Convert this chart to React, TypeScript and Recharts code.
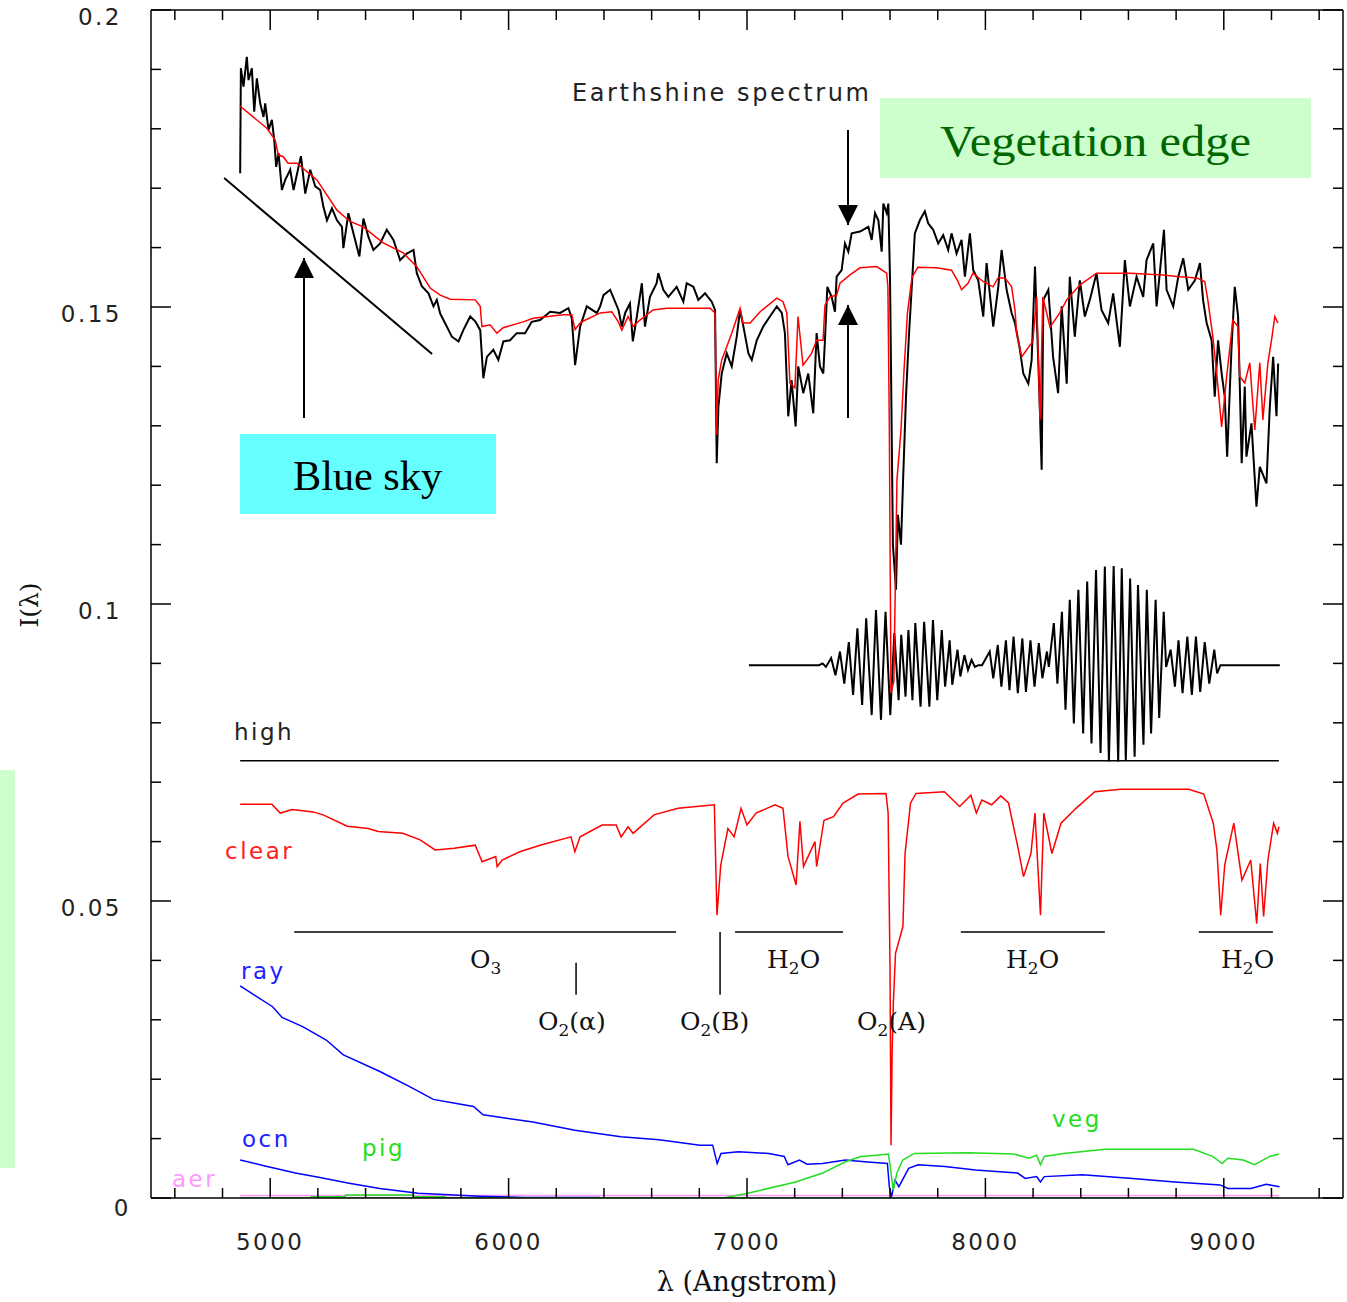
import React from "react";
import { ComposedChart, Line, XAxis, YAxis, ReferenceLine } from "recharts";

// [wavelength (Angstrom), I(lambda)]
const earthshine: [number, number][] = [
  [4874, 0.1725], [4877, 0.1902], [4888, 0.1871], [4902, 0.1921], [4909, 0.1882], [4923, 0.1902],
  [4933, 0.1829], [4944, 0.1885], [4958, 0.1843], [4972, 0.182], [4979, 0.1843], [4993, 0.1798],
  [5007, 0.1815], [5017, 0.1781], [5025, 0.1736], [5035, 0.1759], [5049, 0.1697], [5063, 0.1714],
  [5084, 0.1731], [5098, 0.1697], [5119, 0.1736], [5129, 0.1754], [5147, 0.1691], [5168, 0.1731],
  [5189, 0.1703], [5210, 0.1697], [5223, 0.1669], [5238, 0.1646], [5259, 0.1666], [5280, 0.1646],
  [5301, 0.1635], [5307, 0.1599], [5328, 0.1658], [5349, 0.1624], [5374, 0.1585], [5391, 0.1649],
  [5412, 0.1618], [5433, 0.1596], [5461, 0.1607], [5489, 0.163], [5517, 0.1613], [5545, 0.1579],
  [5573, 0.159], [5601, 0.1596], [5615, 0.1557], [5636, 0.1535], [5664, 0.1523], [5685, 0.1501],
  [5699, 0.1512], [5713, 0.1489], [5741, 0.1467], [5762, 0.145], [5790, 0.1442], [5810, 0.1461],
  [5839, 0.1484], [5860, 0.1476], [5881, 0.1461], [5894, 0.138], [5909, 0.1416], [5936, 0.1428],
  [5957, 0.1411], [5978, 0.1442], [6006, 0.1444], [6034, 0.1456], [6069, 0.1456], [6097, 0.1475],
  [6132, 0.1478], [6174, 0.1492], [6216, 0.149], [6251, 0.1498], [6265, 0.1481], [6279, 0.1402],
  [6300, 0.1467], [6328, 0.1501], [6370, 0.149], [6384, 0.1501], [6398, 0.152], [6426, 0.1529],
  [6461, 0.1495], [6475, 0.1467], [6489, 0.149], [6509, 0.1506], [6521, 0.1442], [6538, 0.1484],
  [6559, 0.154], [6572, 0.1467], [6593, 0.1517], [6621, 0.154], [6628, 0.1557], [6649, 0.1529],
  [6670, 0.1517], [6705, 0.1534], [6733, 0.1509], [6747, 0.154], [6775, 0.1534], [6796, 0.1512],
  [6824, 0.1523], [6852, 0.1509], [6866, 0.1495], [6873, 0.1237], [6880, 0.1332], [6894, 0.1388],
  [6915, 0.1422], [6936, 0.14], [6957, 0.145], [6971, 0.1495], [6985, 0.1467], [7006, 0.1422],
  [7020, 0.1411], [7041, 0.1444], [7068, 0.1467], [7096, 0.1484], [7125, 0.1501], [7146, 0.149],
  [7159, 0.1456], [7173, 0.1316], [7187, 0.1377], [7204, 0.1299], [7215, 0.14], [7236, 0.1355],
  [7257, 0.1388], [7278, 0.1321], [7292, 0.1456], [7306, 0.14], [7320, 0.1388], [7327, 0.1444],
  [7337, 0.1534], [7355, 0.1517], [7369, 0.1492], [7376, 0.1551], [7397, 0.1562], [7411, 0.1607],
  [7425, 0.1593], [7439, 0.1624], [7474, 0.1627], [7509, 0.1635], [7523, 0.1613], [7537, 0.1658],
  [7551, 0.1646], [7565, 0.1593], [7572, 0.1674], [7586, 0.1658], [7593, 0.1674], [7600, 0.1545],
  [7604, 0.14], [7612, 0.11], [7625, 0.1024], [7633, 0.115], [7646, 0.11], [7654, 0.12],
  [7667, 0.135], [7679, 0.145], [7692, 0.154], [7704, 0.1624], [7725, 0.1646], [7746, 0.1661],
  [7760, 0.1641], [7781, 0.163], [7802, 0.1607], [7823, 0.1621], [7844, 0.1596], [7858, 0.1624],
  [7879, 0.159], [7900, 0.1613], [7914, 0.1551], [7935, 0.1624], [7949, 0.1562], [7970, 0.1545],
  [7991, 0.1484], [8005, 0.1574], [8033, 0.1467], [8054, 0.1534], [8068, 0.1596], [8089, 0.1529],
  [8110, 0.149], [8124, 0.1473], [8145, 0.1428], [8159, 0.1388], [8180, 0.1371], [8194, 0.1411],
  [8208, 0.1568], [8226, 0.136], [8236, 0.1226], [8243, 0.1512], [8264, 0.1529], [8284, 0.1416],
  [8305, 0.1355], [8320, 0.1501], [8341, 0.1371], [8354, 0.1551], [8375, 0.145], [8396, 0.1545],
  [8417, 0.1484], [8438, 0.1512], [8466, 0.1557], [8487, 0.1495], [8515, 0.1473], [8536, 0.1523],
  [8564, 0.1433], [8585, 0.1579], [8606, 0.1501], [8634, 0.1551], [8662, 0.1517], [8676, 0.1579],
  [8704, 0.1607], [8718, 0.1501], [8749, 0.163], [8760, 0.1529], [8788, 0.1501], [8809, 0.1551],
  [8830, 0.1582], [8851, 0.1529], [8879, 0.1545], [8900, 0.1574], [8913, 0.1512], [8928, 0.1473],
  [8949, 0.1444], [8962, 0.1349], [8976, 0.1444], [8991, 0.1388], [9004, 0.1349], [9014, 0.1248],
  [9032, 0.1428], [9046, 0.1534], [9060, 0.1484], [9075, 0.1237], [9088, 0.1366], [9095, 0.1248],
  [9116, 0.1304], [9137, 0.1164], [9151, 0.1231], [9179, 0.1203], [9193, 0.1332], [9207, 0.1416],
  [9221, 0.1316], [9228, 0.1405],
];

const modelFit: [number, number][] = [
  [4874, 0.1838], [4986, 0.1801], [5021, 0.1781], [5034, 0.1756], [5055, 0.1753], [5075, 0.1742],
  [5112, 0.1742], [5196, 0.1714], [5280, 0.1663], [5335, 0.1644], [5390, 0.1635], [5474, 0.1608],
  [5558, 0.1591], [5615, 0.1568], [5671, 0.1532], [5713, 0.152], [5755, 0.1513], [5860, 0.1512],
  [5881, 0.1501], [5888, 0.1467], [5922, 0.147], [5951, 0.1456], [5977, 0.1465], [6061, 0.1475],
  [6103, 0.1481], [6229, 0.1487], [6265, 0.1487], [6279, 0.1462], [6300, 0.1473], [6312, 0.1476],
  [6384, 0.149], [6433, 0.1492], [6459, 0.1476], [6475, 0.1461], [6501, 0.1484], [6522, 0.1467],
  [6551, 0.1478], [6606, 0.1495], [6663, 0.1498], [6845, 0.1498], [6866, 0.149], [6873, 0.1285],
  [6879, 0.1377], [6894, 0.1411], [6915, 0.1433], [6936, 0.1456], [6971, 0.1498], [6983, 0.1473],
  [7013, 0.1473], [7055, 0.1492], [7125, 0.1515], [7151, 0.1509], [7167, 0.149], [7180, 0.1372],
  [7201, 0.1364], [7214, 0.1484], [7235, 0.1402], [7271, 0.1422], [7292, 0.1444], [7319, 0.1444],
  [7327, 0.1503], [7348, 0.1517], [7376, 0.152], [7390, 0.154], [7432, 0.1554], [7474, 0.1566],
  [7544, 0.1568], [7586, 0.1557], [7591, 0.1534], [7597, 0.13], [7604, 0.085], [7616, 0.087],
  [7629, 0.1209], [7646, 0.1293], [7658, 0.1389], [7673, 0.149], [7692, 0.155], [7717, 0.1567],
  [7795, 0.1566], [7858, 0.1562], [7885, 0.1543], [7900, 0.1529], [7927, 0.154], [7948, 0.1557],
  [7990, 0.1543], [8032, 0.1534], [8053, 0.1549], [8082, 0.1549], [8110, 0.1534], [8124, 0.1495],
  [8131, 0.1456], [8152, 0.1416], [8173, 0.1428], [8199, 0.1442], [8215, 0.1517], [8229, 0.131],
  [8241, 0.1517], [8271, 0.1466], [8312, 0.149], [8341, 0.1512], [8396, 0.1537], [8466, 0.1557],
  [8606, 0.1557], [8744, 0.1554], [8816, 0.1551], [8886, 0.1549], [8920, 0.1543], [8933, 0.1512],
  [8954, 0.145], [8970, 0.1389], [8991, 0.1298], [9012, 0.1383], [9038, 0.1478], [9059, 0.1467],
  [9067, 0.1383], [9088, 0.1372], [9109, 0.1406], [9130, 0.1293], [9151, 0.1406], [9164, 0.131],
  [9185, 0.1406], [9200, 0.1444], [9214, 0.1484], [9227, 0.1473],
];

const residual: [number, number][] = [
  [7008, 0.0897], [7302, 0.0897], [7317, 0.09], [7331, 0.0894], [7353, 0.0909], [7371, 0.088],
  [7390, 0.092], [7408, 0.0866], [7427, 0.0936], [7445, 0.0847], [7463, 0.0959], [7483, 0.083],
  [7500, 0.0976], [7523, 0.0813], [7541, 0.099], [7562, 0.0805], [7581, 0.0987], [7601, 0.0813],
  [7618, 0.0951], [7636, 0.0838], [7647, 0.0948], [7665, 0.0844], [7677, 0.0956], [7694, 0.0838],
  [7706, 0.0968], [7728, 0.0827], [7743, 0.097], [7765, 0.0827], [7780, 0.0973], [7798, 0.0838],
  [7817, 0.0956], [7831, 0.0861], [7850, 0.0939], [7861, 0.0864], [7883, 0.0923], [7895, 0.0878],
  [7912, 0.0914], [7927, 0.0889], [7942, 0.0906], [7956, 0.0894], [7971, 0.0897], [7986, 0.0897],
  [8018, 0.092], [8033, 0.0875], [8052, 0.0931], [8067, 0.0861], [8086, 0.0939], [8101, 0.0855],
  [8118, 0.0945], [8136, 0.085], [8155, 0.0942], [8170, 0.0852], [8189, 0.0939], [8206, 0.0861],
  [8224, 0.0934], [8239, 0.0875], [8258, 0.092], [8266, 0.0894], [8287, 0.0968], [8302, 0.0866],
  [8321, 0.0987], [8336, 0.0822], [8354, 0.1007], [8371, 0.0799], [8390, 0.1024], [8410, 0.0782],
  [8427, 0.1038], [8445, 0.0765], [8464, 0.1057], [8483, 0.0749], [8501, 0.1063], [8518, 0.0735],
  [8538, 0.1064], [8557, 0.0735], [8572, 0.106], [8589, 0.0737], [8607, 0.1043], [8626, 0.0743],
  [8640, 0.1032], [8663, 0.0763], [8677, 0.1024], [8695, 0.0782], [8714, 0.1007], [8729, 0.0808],
  [8748, 0.0987], [8758, 0.0894], [8777, 0.0923], [8795, 0.0861], [8810, 0.0939], [8827, 0.085],
  [8847, 0.0945], [8866, 0.0847], [8883, 0.0945], [8901, 0.0852], [8920, 0.0936], [8939, 0.0866],
  [8960, 0.0923], [8972, 0.0883], [8986, 0.0897], [9235, 0.0897],
];

const high: [number, number][] = [[4874, 0.0736], [9231, 0.0736]];

const clear: [number, number][] = [
  [4874, 0.0663], [5007, 0.0663], [5042, 0.0648], [5092, 0.0654], [5180, 0.065], [5222, 0.0645],
  [5323, 0.0626], [5411, 0.0622], [5453, 0.0617], [5556, 0.0614], [5629, 0.0603], [5692, 0.0586],
  [5772, 0.0589], [5860, 0.0594], [5889, 0.0566], [5946, 0.0575], [5952, 0.0558], [5973, 0.0569],
  [6047, 0.0583], [6132, 0.0594], [6262, 0.0608], [6278, 0.0583], [6300, 0.0608], [6392, 0.0628],
  [6451, 0.0628], [6472, 0.0608], [6501, 0.0625], [6522, 0.0614], [6610, 0.0645], [6711, 0.0656],
  [6863, 0.0662], [6874, 0.0476], [6890, 0.0561], [6920, 0.0622], [6946, 0.0608], [6975, 0.0656],
  [7000, 0.0628], [7038, 0.0648], [7117, 0.0662], [7151, 0.0656], [7172, 0.0575], [7206, 0.0527],
  [7222, 0.0634], [7237, 0.0558], [7285, 0.06], [7292, 0.0558], [7323, 0.0636], [7363, 0.0642],
  [7403, 0.0665], [7466, 0.068], [7583, 0.0681], [7592, 0.0648], [7600, 0.0384], [7604, 0.0089],
  [7609, 0.025], [7614, 0.033], [7623, 0.0412], [7654, 0.0457], [7663, 0.058], [7686, 0.0665],
  [7709, 0.0681], [7828, 0.0684], [7892, 0.0659], [7939, 0.0678], [7962, 0.0648], [7985, 0.067],
  [8026, 0.0662], [8065, 0.0677], [8097, 0.0665], [8136, 0.0591], [8160, 0.0541], [8191, 0.058],
  [8208, 0.0648], [8231, 0.0476], [8245, 0.0648], [8279, 0.058], [8317, 0.0631], [8380, 0.0656],
  [8459, 0.0684], [8568, 0.0688], [8853, 0.0688], [8916, 0.068], [8956, 0.0631], [8971, 0.0586],
  [8987, 0.0476], [9004, 0.0561], [9042, 0.0631], [9076, 0.0535], [9113, 0.0569], [9138, 0.0462],
  [9153, 0.0563], [9167, 0.0474], [9185, 0.0569], [9209, 0.0631], [9225, 0.0614], [9231, 0.0625],
];

const ray: [number, number][] = [
  [4874, 0.0357], [5010, 0.0322], [5050, 0.0304], [5138, 0.0288], [5235, 0.0266], [5307, 0.0241],
  [5460, 0.0213], [5587, 0.0187], [5684, 0.0166], [5781, 0.0159], [5853, 0.0154], [5893, 0.014],
  [6102, 0.0128], [6278, 0.0114], [6471, 0.0103], [6631, 0.0098], [6803, 0.0089], [6856, 0.0089],
  [6875, 0.0058], [6891, 0.0075], [6964, 0.0078], [7092, 0.0075], [7156, 0.007], [7172, 0.0056],
  [7220, 0.0064], [7252, 0.0057], [7317, 0.0058], [7413, 0.0064], [7493, 0.0061], [7589, 0.0058],
  [7597, 0.0019], [7606, 0.0002], [7621, 0.003], [7637, 0.0019], [7678, 0.005], [7718, 0.0056],
  [7830, 0.0053], [7958, 0.0047], [8135, 0.0042], [8167, 0.0033], [8215, 0.0036], [8231, 0.0027],
  [8247, 0.0036], [8408, 0.0039], [8617, 0.0033], [8793, 0.0027], [8985, 0.0022], [9017, 0.0016],
  [9114, 0.0016], [9178, 0.0023], [9234, 0.0019],
];

const ocn: [number, number][] = [
  [4874, 0.0064], [4978, 0.0054], [5106, 0.0042], [5203, 0.0035], [5331, 0.0025], [5460, 0.0016],
  [5620, 0.0008], [5877, 0.0003], [6061, 0.0001], [6383, 0.0001],
];

const pig: [number, number][] = [
  [4874, 0], [5170, 0], [5172, 0.0002], [5314, 0.0002], [5316, 0.0005], [5600, 0.0005],
  [5602, 0.0002], [5733, 0.0002], [5735, 0], [9232, 0],
];

const veg: [number, number][] = [
  [4874, 0], [6900, 0], [7003, 0.0008], [7204, 0.0027], [7317, 0.0042], [7413, 0.0061],
  [7477, 0.007], [7541, 0.0072], [7593, 0.0074], [7601, 0.0053], [7613, 0.0013], [7629, 0.0042],
  [7653, 0.0064], [7702, 0.0075], [7926, 0.0076], [8119, 0.0074], [8183, 0.0067], [8215, 0.0072],
  [8231, 0.0056], [8247, 0.007], [8328, 0.0075], [8504, 0.0082], [8873, 0.0082], [8953, 0.007],
  [8993, 0.0058], [9017, 0.0067], [9081, 0.0064], [9129, 0.0056], [9193, 0.007], [9232, 0.0074],
];

const aer: [number, number][] = [[4874, 0.0004], [9232, 0.0004]];

// absorption band bars and line markers
const bands = [
  { from: 5101, to: 6702 },
  { from: 6950, to: 7403 },
  { from: 7897, to: 8501 },
  { from: 8895, to: 9206 },
];
const bandLevel = 0.0448;
const o2Marks = [
  { at: 6283, top: 0.0396 },
  { at: 6887, top: 0.0448 },
];
const o2Bottom = 0.0342;
const skyLine = [
  { x: 4807, y: 0.1717 },
  { x: 5679, y: 0.1421 },
];

const xTicks = [
  4600, 4800, 5000, 5200, 5400, 5600, 5800, 6000, 6200, 6400, 6600, 6800, 7000,
  7200, 7400, 7600, 7800, 8000, 8200, 8400, 8600, 8800, 9000, 9200, 9400,
];
const xLabels = [5000, 6000, 7000, 8000, 9000];
const yTicks = [
  0, 0.01, 0.02, 0.03, 0.04, 0.05, 0.06, 0.07, 0.08, 0.09, 0.1, 0.11, 0.12, 0.13,
  0.14, 0.15, 0.16, 0.17, 0.18, 0.19, 0.2,
];
const yLabels = [0, 0.05, 0.1, 0.15, 0.2];

const pts = (s: [number, number][]) => s.map(([x, y]) => ({ x, y }));
const isLabel = (list: number[], v: number) => list.some((l) => Math.abs(l - v) < 1e-9);

const sans = "'DejaVu Sans', sans-serif";
const serif = "'DejaVu Serif', serif";
const times = "'Liberation Serif', serif";
const tickFont = { fontFamily: sans, fontSize: 23, letterSpacing: 2.5, fill: "#222" };

const BottomTick = ({ x, y, payload }: any) => {
  const major = isLabel(xLabels, payload.value);
  return (
    <g>
      <line x1={x} x2={x} y1={y} y2={y - (major ? 20 : 10)} stroke="#000" strokeWidth={1.5} />
      {major && (
        <text x={x} y={y + 52} textAnchor="middle" {...tickFont}>
          {payload.value}
        </text>
      )}
    </g>
  );
};

const TopTick = ({ x, y, payload }: any) => {
  const major = isLabel(xLabels, payload.value);
  return <line x1={x} x2={x} y1={y} y2={y + (major ? 20 : 10)} stroke="#000" strokeWidth={1.5} />;
};

const LeftTick = ({ x, y, payload }: any) => {
  const major = isLabel(yLabels, payload.value);
  return (
    <g>
      <line x1={x} x2={x + (major ? 20 : 10)} y1={y} y2={y} stroke="#000" strokeWidth={1.5} />
      {major && (
        <text x={payload.value === 0 ? x - 20 : x - 29} y={y + (payload.value === 0 ? 18 : 15)} textAnchor="end" {...tickFont}>
          {String(payload.value)}
        </text>
      )}
    </g>
  );
};

const RightTick = ({ x, y, payload }: any) => {
  const major = isLabel(yLabels, payload.value);
  return <line x1={x} x2={x - (major ? 20 : 10)} y1={y} y2={y} stroke="#000" strokeWidth={1.5} />;
};

const frame = { stroke: "#000", strokeWidth: 1.5 };

const series = (data: [number, number][], color: string, width = 1.5) => (
  <Line
    data={pts(data)}
    dataKey="y"
    type="linear"
    stroke={color}
    strokeWidth={width}
    dot={false}
    activeDot={false}
    isAnimationActive={false}
  />
);

const Annotations = () => (
  <svg width={1347} height={1302} style={{ position: "absolute", left: 0, top: 0, pointerEvents: "none" }}>
    <defs>
      <marker id="head" viewBox="0 0 10 10" refX="10" refY="5" markerWidth="20" markerHeight="24"
        markerUnits="userSpaceOnUse" orient="auto">
        <path d="M0,0 L10,5 L0,10 z" fill="#000" />
      </marker>
    </defs>
    <rect x={0} y={770} width={15} height={398} fill="#ccffcc" />
    <rect x={880} y={98} width={431} height={80} fill="#ccffcc" />
    <text x={940} y={156} fontFamily={times} fontSize={44} fill="#006600" textLength={311} lengthAdjust="spacingAndGlyphs">
      Vegetation edge
    </text>
    <rect x={240} y={434} width={256} height={80} fill="#66ffff" />
    <text x={293} y={490} fontFamily={times} fontSize={42} fill="#000" textLength={149} lengthAdjust="spacingAndGlyphs">
      Blue sky
    </text>
    <text x={572} y={101} fontFamily={sans} fontSize={24} fill="#222" textLength={297} lengthAdjust="spacing">
      Earthshine spectrum
    </text>
    <line x1={304} y1={418} x2={304} y2={258} stroke="#000" strokeWidth={2} markerEnd="url(#head)" />
    <line x1={848} y1={130} x2={848} y2={225} stroke="#000" strokeWidth={2} markerEnd="url(#head)" />
    <line x1={848} y1={418} x2={848} y2={305} stroke="#000" strokeWidth={2} markerEnd="url(#head)" />

    <g fontFamily={sans} fontSize={23} letterSpacing={2.5}>
      <text x={234} y={740} fill="#222">high</text>
      <text x={225} y={859} fill="#ff2020">clear</text>
      <text x={241} y={979} fill="#2020ff">ray</text>
      <text x={242} y={1147} fill="#2020ff">ocn</text>
      <text x={362} y={1156} fill="#22dd22">pig</text>
      <text x={1052} y={1127} fill="#22dd22">veg</text>
      <text x={172} y={1187} fill="#ff99ff">aer</text>
    </g>

    <g fontFamily={serif} fontSize={25} fill="#111">
      <text x={470} y={968}>O<tspan dy={6} fontSize={17}>3</tspan></text>
      <text x={767} y={968}>H<tspan dy={6} fontSize={17}>2</tspan><tspan dy={-6}>O</tspan></text>
      <text x={1006} y={968}>H<tspan dy={6} fontSize={17}>2</tspan><tspan dy={-6}>O</tspan></text>
      <text x={1221} y={968}>H<tspan dy={6} fontSize={17}>2</tspan><tspan dy={-6}>O</tspan></text>
      <text x={538} y={1030}>O<tspan dy={6} fontSize={17}>2</tspan><tspan dy={-6}>(α)</tspan></text>
      <text x={680} y={1030}>O<tspan dy={6} fontSize={17}>2</tspan><tspan dy={-6}>(B)</tspan></text>
      <text x={857} y={1030}>O<tspan dy={6} fontSize={17}>2</tspan><tspan dy={-6}>(A)</tspan></text>
    </g>

    <text x={747} y={1291} textAnchor="middle" fontFamily={serif} fontSize={27} fill="#111">
      λ (Angstrom)
    </text>
    <text x={0} y={0} transform="translate(38,605) rotate(-90)" textAnchor="middle" fontFamily={serif} fontSize={25} fill="#111">
      I(λ)
    </text>
  </svg>
);

export default function App() {
  return (
    <div style={{ position: "absolute", left: 0, top: 0, width: 1347, height: 1302, background: "#fff" }}>
      <ComposedChart width={1347} height={1302} margin={{ top: 0, right: 0, bottom: 0, left: 0 }}>
        <XAxis
          dataKey="x"
          type="number"
          domain={[4500, 9500]}
          ticks={xTicks}
          interval={0}
          height={104}
          tickSize={0}
          tickMargin={0}
          tickLine={false}
          axisLine={frame}
          tick={<BottomTick />}
          allowDataOverflow
        />
        <XAxis
          xAxisId="top"
          orientation="top"
          dataKey="x"
          type="number"
          domain={[4500, 9500]}
          ticks={xTicks}
          interval={0}
          height={10}
          tickSize={0}
          tickMargin={0}
          tickLine={false}
          axisLine={frame}
          tick={<TopTick />}
          allowDataOverflow
        />
        <YAxis
          type="number"
          domain={[0, 0.2]}
          ticks={yTicks}
          interval={0}
          width={151}
          tickSize={0}
          tickMargin={0}
          tickLine={false}
          axisLine={frame}
          tick={<LeftTick />}
          allowDataOverflow
        />
        <YAxis
          yAxisId="right"
          orientation="right"
          type="number"
          domain={[0, 0.2]}
          ticks={yTicks}
          interval={0}
          width={4}
          tickSize={0}
          tickMargin={0}
          tickLine={false}
          axisLine={frame}
          tick={<RightTick />}
          allowDataOverflow
        />

        {bands.map((b, i) => (
          <ReferenceLine
            key={`band-${i}`}
            segment={[{ x: b.from, y: bandLevel }, { x: b.to, y: bandLevel }]}
            stroke="#000"
            strokeWidth={1.5}
          />
        ))}
        {o2Marks.map((m, i) => (
          <ReferenceLine
            key={`o2-${i}`}
            segment={[{ x: m.at, y: m.top }, { x: m.at, y: o2Bottom }]}
            stroke="#000"
            strokeWidth={1.5}
          />
        ))}
        <ReferenceLine segment={skyLine} stroke="#000" strokeWidth={2} />

        {series(aer, "#ff99ff", 1.5)}
        {series(pig, "#22dd22", 1.5)}
        {series(earthshine, "#000", 2)}
        {series(residual, "#000", 2)}
        {series(high, "#000", 1.5)}
        {series(modelFit, "#ff0000", 1.5)}
        {series(clear, "#ff0000", 1.5)}
        {series(ray, "#0000ff", 1.5)}
        {series(ocn, "#0000ff", 1.5)}
        {series(veg, "#22dd22", 1.5)}
      </ComposedChart>
      <Annotations />
    </div>
  );
}
